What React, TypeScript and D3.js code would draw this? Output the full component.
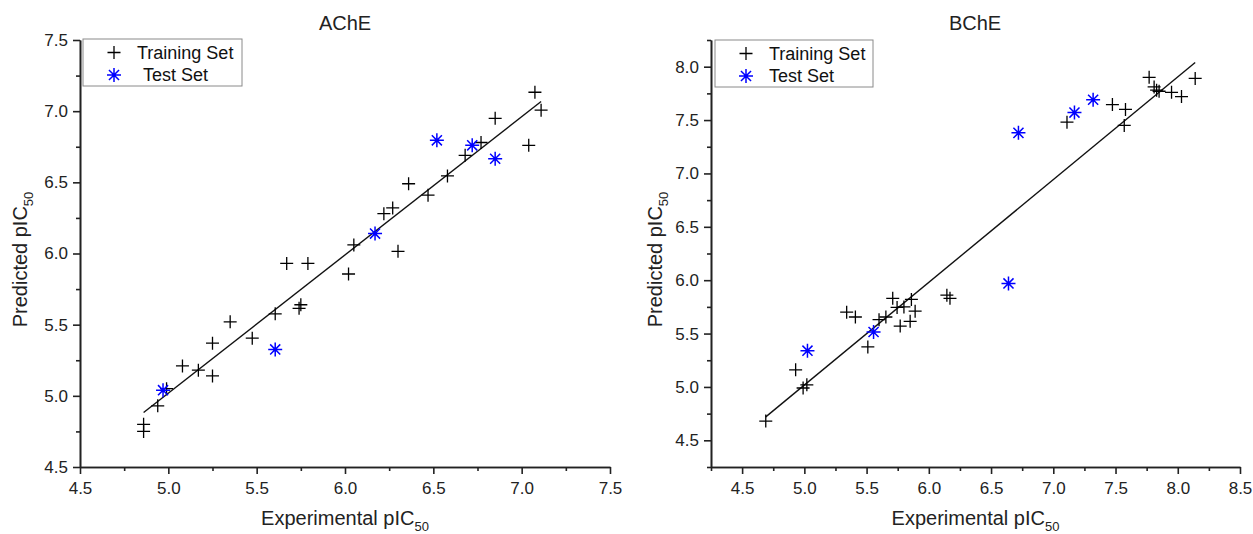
import React, { useEffect, useRef } from 'react';
import * as d3 from 'd3';

// experimental vs predicted pIC50, [x, y]
const acheTraining: [number, number][] = [
  [4.86, 4.8], [4.86, 4.75], [4.94, 4.93], [4.99, 5.05], [5.08, 5.21], [5.17, 5.18],
  [5.25, 5.14], [5.25, 5.37], [5.35, 5.52], [5.475, 5.405], [5.605, 5.576], [5.67, 5.93],
  [5.79, 5.93], [5.75, 5.64], [5.74, 5.615], [6.02, 5.856], [6.05, 6.06], [6.3, 6.015],
  [6.22, 6.28], [6.27, 6.32], [6.36, 6.49], [6.47, 6.41], [6.58, 6.545], [6.68, 6.69],
  [6.77, 6.78], [6.85, 6.95], [7.04, 6.76], [7.075, 7.133], [7.11, 7.007],
];
const acheTest: [number, number][] = [
  [4.97, 5.04], [5.605, 5.326], [6.17, 6.14], [6.52, 6.795], [6.72, 6.76], [6.85, 6.666],
];
const bcheTraining: [number, number][] = [
  [4.69, 4.68], [4.99, 4.99], [5.02, 5.02], [4.93, 5.16], [5.34, 5.7], [5.41, 5.655],
  [5.51, 5.375], [5.6, 5.63], [5.655, 5.655], [5.71, 5.83], [5.745, 5.745], [5.8, 5.75],
  [5.86, 5.82], [5.77, 5.57], [5.85, 5.615], [5.89, 5.71], [6.145, 5.86], [6.17, 5.83],
  [7.11, 7.48], [7.475, 7.645], [7.58, 7.6], [7.57, 7.45], [7.77, 7.9], [7.81, 7.81],
  [7.83, 7.78], [7.85, 7.77], [7.95, 7.76], [8.03, 7.72], [8.14, 7.89],
];
const bcheTest: [number, number][] = [
  [5.025, 5.34], [5.556, 5.515], [6.64, 5.97], [6.72, 7.38], [7.17, 7.57], [7.32, 7.69],
];

// fitted regression lines (slope, intercept)
const acheFit = [0.971, 0.164];
const bcheFit = [0.962, 0.208];

const acheDomainX = [4.5, 7.5];
const acheDomainY = [4.5, 7.5];
const bcheDomainX = [4.25, 8.5];
const bcheDomainY = [4.25, 8.25];

const legendLabels = ['Training Set', 'Test Set'];

const FONT = '"Liberation Sans", Arial, sans-serif';

const panels = [
  {
    title: 'AChE', training: acheTraining, test: acheTest, fit: acheFit,
    dx: acheDomainX, dy: acheDomainY,
    left: 80, right: 610, top: 40, bottom: 467,
    legend: { x: 83, y: 39, w: 159, h: 47, testShift: 6 },
    yLabelX: 27, titleX: 345,
  },
  {
    title: 'BChE', training: bcheTraining, test: bcheTest, fit: bcheFit,
    dx: bcheDomainX, dy: bcheDomainY,
    left: 711, right: 1240, top: 40, bottom: 467,
    legend: { x: 715, y: 40, w: 158, h: 47, testShift: 0 },
    yLabelX: 662, titleX: 975,
  },
];

function drawPlus(g: any, x: number, y: number) {
  const s = 6.5;
  g.append('path')
    .attr('d', `M${x - s},${y}H${x + s}M${x},${y - s}V${y + s}`)
    .attr('stroke', '#000')
    .attr('stroke-width', 1.3)
    .attr('fill', 'none');
}

function drawStar(g: any, x: number, y: number) {
  const s = 7;
  const d = s * 0.72;
  g.append('path')
    .attr(
      'd',
      `M${x - s},${y}H${x + s}M${x},${y - s}V${y + s}` +
        `M${x - d},${y - d}L${x + d},${y + d}M${x - d},${y + d}L${x + d},${y - d}`
    )
    .attr('stroke', '#0000ff')
    .attr('stroke-width', 1.5)
    .attr('fill', 'none');
}

const App = () => {
  const ref = useRef<SVGSVGElement>(null);

  useEffect(() => {
    const svg = d3.select(ref.current);
    svg.selectAll('*').remove();

    panels.forEach((p) => {
      const x = d3.scaleLinear().domain(p.dx).range([p.left, p.right]);
      const y = d3.scaleLinear().domain(p.dy).range([p.bottom, p.top]);
      const g = svg.append('g');

      const isMajor = (v: number) => Math.abs(v * 2 - Math.round(v * 2)) < 0.01;
      const majorX = d3.range(Math.ceil(p.dx[0] * 2) / 2, p.dx[1] + 0.001, 0.5);
      const minorX = d3.range(p.dx[0], p.dx[1] + 0.001, 0.25).filter((v) => !isMajor(v));
      const majorY = d3.range(Math.ceil(p.dy[0] * 2) / 2, p.dy[1] + 0.001, 0.5);
      const minorY = d3.range(p.dy[0], p.dy[1] + 0.001, 0.25).filter((v) => !isMajor(v));

      const styleAxis = (a: any) => {
        a.selectAll('path, line').attr('stroke', '#222').attr('stroke-width', 1.6);
        a.selectAll('text').attr('font-family', FONT).attr('font-size', 17).attr('fill', '#222');
      };

      g.append('g')
        .attr('transform', `translate(0,${p.bottom})`)
        .call(d3.axisBottom(x).tickValues(minorX).tickSize(4).tickSizeOuter(0).tickFormat(() => ''))
        .call(styleAxis);
      g.append('g')
        .attr('transform', `translate(0,${p.bottom})`)
        .call(d3.axisBottom(x).tickValues(majorX).tickSize(7).tickSizeOuter(0).tickPadding(8).tickFormat(d3.format('.1f')))
        .call(styleAxis);
      g.append('g')
        .attr('transform', `translate(${p.left},0)`)
        .call(d3.axisLeft(y).tickValues(minorY).tickSize(4).tickSizeOuter(0).tickFormat(() => ''))
        .call(styleAxis);
      g.append('g')
        .attr('transform', `translate(${p.left},0)`)
        .call(d3.axisLeft(y).tickValues(majorY).tickSize(7).tickSizeOuter(0).tickPadding(5).tickFormat(d3.format('.1f')))
        .call(styleAxis);

      // regression line over training range
      const [slope, intercept] = p.fit;
      const xs = d3.extent(p.training, (d) => d[0]) as [number, number];
      g.append('line')
        .attr('x1', x(xs[0]))
        .attr('y1', y(slope * xs[0] + intercept))
        .attr('x2', x(xs[1]))
        .attr('y2', y(slope * xs[1] + intercept))
        .attr('stroke', '#111')
        .attr('stroke-width', 1.4);

      p.training.forEach((d) => drawPlus(g, x(d[0]), y(d[1])));
      p.test.forEach((d) => drawStar(g, x(d[0]), y(d[1])));

      // title
      g.append('text')
        .attr('x', p.titleX)
        .attr('y', 30)
        .attr('text-anchor', 'middle')
        .attr('font-family', FONT)
        .attr('font-size', 20)
        .attr('fill', '#222')
        .text(p.title);

      // x label
      const xl = g.append('text')
        .attr('x', (p.left + p.right) / 2)
        .attr('y', 525)
        .attr('text-anchor', 'middle')
        .attr('font-family', FONT)
        .attr('font-size', 20)
        .attr('fill', '#222');
      xl.append('tspan').text('Experimental pIC');
      xl.append('tspan').attr('font-size', 13).attr('dy', 6).text('50');

      // y label
      const yl = g.append('text')
        .attr('transform', `translate(${p.yLabelX},${(p.top + p.bottom) / 2 + 6}) rotate(-90)`)
        .attr('text-anchor', 'middle')
        .attr('font-family', FONT)
        .attr('font-size', 20)
        .attr('fill', '#222');
      yl.append('tspan').text('Predicted pIC');
      yl.append('tspan').attr('font-size', 13).attr('dy', 6).text('50');

      // legend
      const L = p.legend;
      const lg = g.append('g');
      lg.append('rect')
        .attr('x', L.x)
        .attr('y', L.y)
        .attr('width', L.w)
        .attr('height', L.h)
        .attr('fill', '#fff')
        .attr('stroke', '#8a8a8a')
        .attr('stroke-width', 1);
      const mx = L.x + 31;
      drawPlus(lg, mx, L.y + 13.5);
      drawStar(lg, mx, L.y + 36);
      legendLabels.forEach((t, i) => {
        lg.append('text')
          .attr('x', L.x + 54 + (i === 1 ? L.testShift : 0))
          .attr('y', L.y + 13.5 + i * 22.5)
          .attr('dy', '0.36em')
          .attr('font-family', FONT)
          .attr('font-size', 18)
          .attr('fill', '#111')
          .text(t);
      });
    });
  }, []);

  return (
    <svg
      ref={ref}
      width={1253}
      height={534}
      style={{ position: 'absolute', left: 0, top: 0, background: '#fff' }}
    />
  );
};

export default App;
